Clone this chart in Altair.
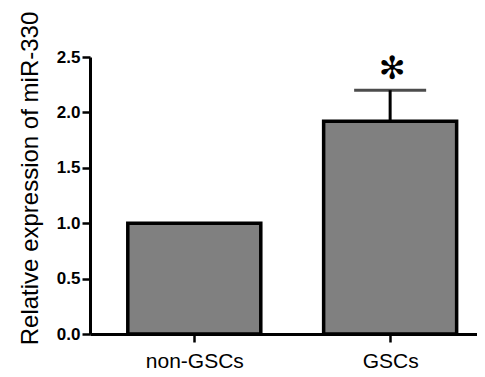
import altair as alt
import pandas as pd

groups = ["non-GSCs", "GSCs"]
positions = [0, 1]
means = [1.0, 1.92]
errors = [0.0, 0.28]
marks = ["", "✻"]

df = pd.DataFrame({"group": groups, "pos": positions, "mean": means, "err": errors, "mark": marks})
df["top"] = df["mean"] + df["err"]

xscale = alt.Scale(domain=[-0.507, 1.418], nice=False, zero=False)
yscale = alt.Scale(domain=[0, 2.5], nice=False)

xaxis = alt.Axis(values=[0, 1], labelExpr="datum.value == 0 ? 'non-GSCs' : 'GSCs'",
                 title=None, grid=False, tickSize=8, tickWidth=2.5, domainWidth=3,
                 domainColor="black", tickColor="black", labelFont="Liberation Sans",
                 labelFontSize=21, labelColor="black", labelPadding=8)
yaxis = alt.Axis(values=[0, 0.5, 1.0, 1.5, 2.0, 2.5], format=".1f", grid=False,
                 title="Relative expression of miR-330", tickSize=8, tickWidth=2.5,
                 domainWidth=3, domainColor="black", tickColor="black",
                 labelFont="Liberation Sans", labelFontWeight="bold", labelFontSize=17,
                 labelColor="black", labelPadding=2, titleFont="Liberation Sans",
                 titleFontSize=24, titleFontWeight="normal", titleColor="black",
                 titleX=-53, titleY=121, titleAngle=-90, titleBaseline="alphabetic",
                 titleAlign="center")

X = alt.X("pos:Q", scale=xscale, axis=xaxis)
base = alt.Chart(df)

bars = base.mark_bar(size=133, fill="#808080", stroke="black", strokeWidth=3.5).encode(
    x=X,
    y=alt.Y("mean:Q", scale=yscale, axis=yaxis),
)

err = base.transform_filter("datum.err > 0")
stem = err.mark_rule(color="black", strokeWidth=3).encode(
    x=X, y=alt.Y("mean:Q", scale=yscale, axis=yaxis), y2="top:Q")
cap = err.mark_tick(orient="horizontal", size=72, thickness=3, color="black").encode(
    x=X, y=alt.Y("top:Q", scale=yscale, axis=yaxis))
star = err.mark_text(font="DejaVu Sans", fontSize=32, fontWeight="bold", color="black",
                     baseline="middle", dy=-21, dx=2).encode(
    x=X, y=alt.Y("top:Q", scale=yscale, axis=yaxis), text="mark:N")

chart = (bars + stem + cap + star).properties(
    width=387, height=277,
    autosize=alt.AutoSizeParams(type="none"),
    padding={"left": 82, "top": 49, "right": 0, "bottom": 40},
    background="white",
).configure_view(stroke=None).configure_axis(
    domainColor="black", domainWidth=3, domainOpacity=1,
    tickColor="black", tickWidth=2.5, tickOpacity=1,
)

chart.save("out.html", embed_options={"renderer": "svg", "actions": False})
